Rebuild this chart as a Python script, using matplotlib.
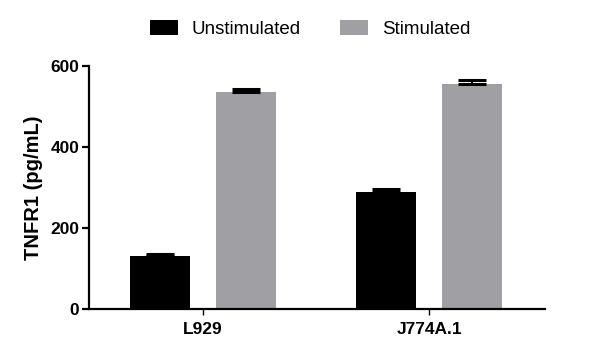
import matplotlib
matplotlib.use("Agg")
import matplotlib.pyplot as plt
import numpy as np

plt.rcParams['font.family'] = ['Liberation Sans', 'DejaVu Sans']

categories = ["L929", "J774A.1"]
series_names = ["Unstimulated", "Stimulated"]
unstim = [131, 288]
unstim_err = [6, 9]
stim = [537, 556]
stim_err = [5, 9]
yticks = [0, 200, 400, 600]

colors = ["#000000", "#A0A0A4"]

fig = plt.figure(figsize=(6, 3.6), dpi=100)
ax = fig.add_axes([89/600, 1-309/360, (545-89)/600, (309-66)/360])

x = np.arange(len(categories))
w = 0.263
off = 0.19
ax.bar(x - off, unstim, w, color=colors[0], label=series_names[0], zorder=2)
ax.bar(x + off, stim, w, color=colors[1], label=series_names[1], zorder=2)
ax.errorbar(x - off, unstim, yerr=[np.zeros(len(unstim)), unstim_err], fmt='none',
            ecolor='black', elinewidth=1.5, capsize=10, capthick=2.2, zorder=3)
ax.errorbar(x + off, stim, yerr=[np.zeros(len(stim)), stim_err], fmt='none',
            ecolor='black', elinewidth=1.5, capsize=10, capthick=2.2, zorder=3)

ax.set_xlim(-0.504, 1.513)
ax.set_ylim(0, 600)
ax.set_yticks(yticks)
ax.set_xticks(x)
ax.set_xticklabels(categories, fontsize=12.5, fontweight='bold')
for lab in ax.get_yticklabels():
    lab.set_fontsize(12.5)
    lab.set_fontweight('bold')
ax.set_ylabel("TNFR1 (pg/mL)", fontsize=14.5, fontweight='bold', labelpad=5)

for s in ['top', 'right']:
    ax.spines[s].set_visible(False)
for s in ['left', 'bottom']:
    ax.spines[s].set_linewidth(1.6)
ax.tick_params(axis='y', length=5, width=1.6, pad=2)
ax.tick_params(axis='x', length=4, width=1.0, pad=5)

leg = fig.legend(loc='center', bbox_to_anchor=(310/600, 1-29/360), ncol=2,
                 frameon=False, fontsize=13.5, handlelength=1.48,
                 handleheight=0.8, handletextpad=0.75, columnspacing=2.1)

fig.savefig("out.png", dpi=100)
